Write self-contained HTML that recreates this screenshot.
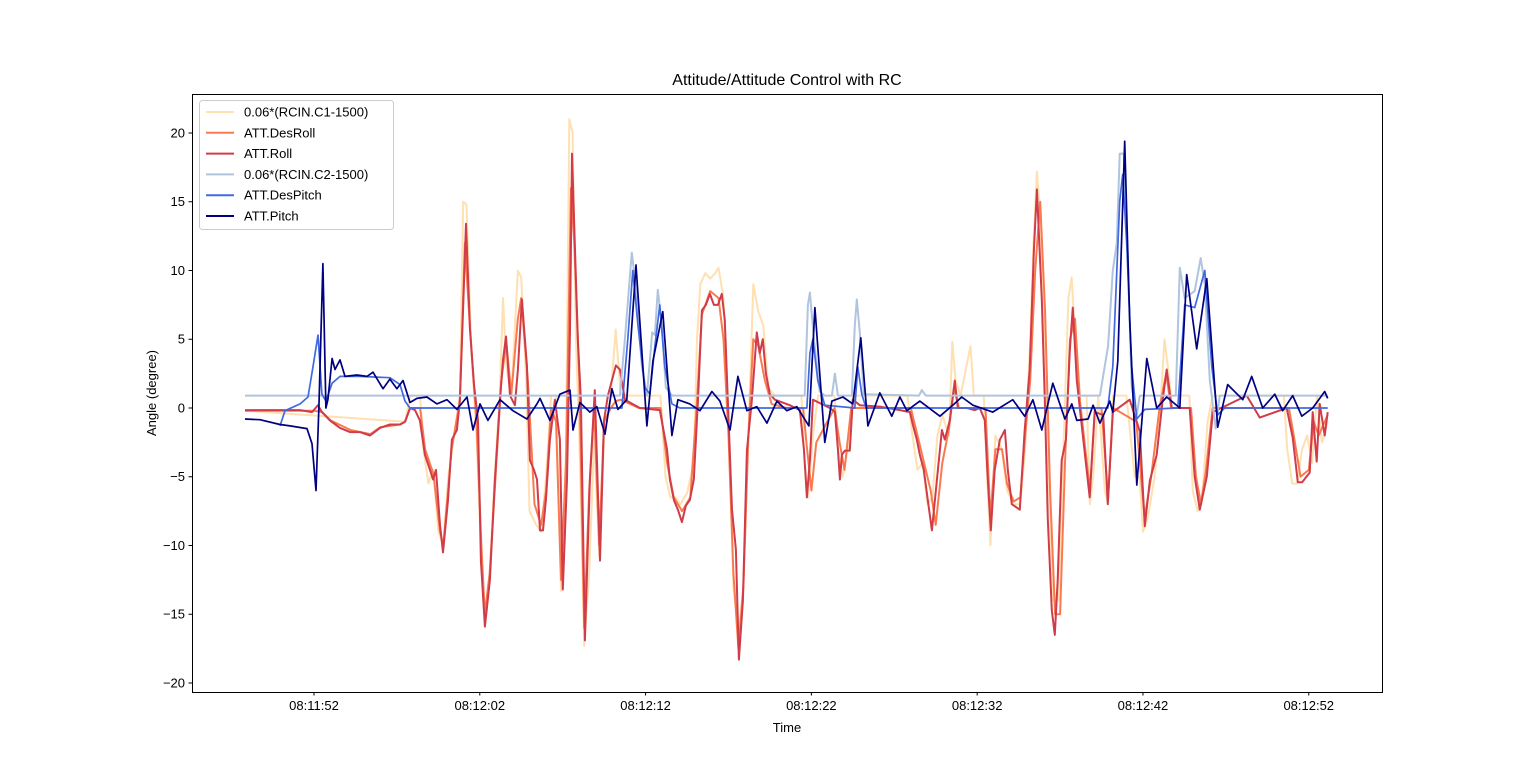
<!DOCTYPE html>
<html><head><meta charset="utf-8">
<style>
html,body{margin:0;padding:0;background:#fff;}
svg{display:block;font-family:"Liberation Sans","DejaVu Sans",sans-serif;}
</style></head>
<body>
<svg id="chart" width="1536" height="777" viewBox="0 0 1536 777">
  <rect x="0" y="0" width="1536" height="777" fill="#fff"/>
  <text x="787" y="85" text-anchor="middle" font-size="16" fill="#000">Attitude/Attitude Control with RC</text>
  <g id="plot"></g>
  <rect x="192.5" y="94.5" width="1190" height="598" fill="none" stroke="#000" stroke-width="1"/>
  <g id="xaxis"></g>
  <g id="yaxis"></g>
  <text x="787" y="732" text-anchor="middle" font-size="13">Time</text>
  <text transform="translate(156,393) rotate(-90)" text-anchor="middle" font-size="13">Angle (degree)</text>
  <g id="legend"></g>
</svg>
<script>
// time in seconds after 08:11:00
const rc1T=[47.84,57.5,57.8,58.4,58.6,58.9,59.2,59.5,59.8,60.1,60.5,60.8,61.0,61.2,61.5,61.8,62.0,62.3,62.6,62.9,63.2,63.4,63.6,63.9,64.3,64.5,64.8,65.0,65.4,65.7,66.0,66.3,66.6,66.9,67.2,67.4,67.6,67.8,68.0,68.3,68.6,68.9,69.2,69.5,69.9,70.2,70.5,71.0,72.9,73.2,73.5,73.8,74.1,74.5,74.9,75.1,75.3,75.6,75.9,76.2,76.4,76.7,77.0,77.3,77.6,77.9,78.2,78.5,78.8,79.1,79.4,79.8,81.4,81.6,81.8,82.1,82.4,83.4,83.6,83.9,84.2,84.5,87.8,88.1,88.4,88.7,89.0,89.3,89.6,89.9,90.3,90.5,90.7,91.0,91.6,91.8,92.4,92.6,92.8,93.1,93.5,93.8,94.2,94.6,94.9,95.2,95.4,95.6,95.8,96.1,96.4,96.6,96.9,97.2,97.5,97.7,98.0,98.2,98.6,98.8,99.0,99.3,99.7,99.9,100.2,101.0,101.5,101.8,102.0,102.3,102.7,103.0,103.3,103.5,103.7,104.8,105.0,105.3,105.6,105.9,106.2,110.5,110.7,111.0,111.3,111.6,111.9,112.2,112.5,112.8,113.14];
const rc1V=[-0.2,-1,0.9,0.9,-3,-5.5,-4.5,-9,-10,-5,-1.5,1,15,14.8,4,-2,-8,-15.5,-12,-5,0.9,8,3,0.9,10,9.5,2,-7.5,-8.5,-9,-5,0.9,0.9,-13.3,-3,21,20,5,-2,-17.3,-12,-2,-10.8,-2,1,5.7,1,0.9,0.9,-5,-6.5,-6.5,-7,-6.2,-4,5,9,9.8,9.4,9.8,10.2,8,-1,-13,-16.3,-13,-2,9,7,6,1.5,0.9,0.9,-4,-6.5,-2,0.9,0.9,-3,-5,-3,0.9,0.9,-2,-4.5,-4,-7,-6.5,-2,-0.5,-2,4.8,2,0.9,4.5,0.9,0.9,-5,-10,-2,-3,-6,-7,-7,-3,5,12,17.2,14,3,-8,-14,-14,-3,8,9.5,3,0.9,0.9,-7,-5,0.9,-6,-7,0.9,0.9,-5,-5,-9,-8,-5,-1,5,3,0.9,0.9,-6,-7.5,-6,-1,0.9,0.9,-3,-5.5,-5.5,-3,-2,-4,0.9,-2.5,-1];

const rollT=[
47.84,51.16,51.88,52.24,52.48,52.96,53.57,54.17,54.77,55.38,
55.98,56.58,57.19,57.49,57.79,58.09,58.39,58.69,59.0,59.18,
59.36,59.6,59.78,60.08,60.32,60.62,60.8,60.98,61.17,61.41,
61.65,61.89,62.07,62.31,62.61,62.91,63.22,63.4,63.58,63.82,
64.12,64.3,64.54,64.84,65.02,65.27,65.45,65.63,65.81,65.99,
66.23,66.53,66.83,67.01,67.26,67.44,67.56,67.74,67.92,68.1,
68.34,68.64,68.94,69.25,69.49,69.73,69.97,70.21,70.45,70.75,
71.66,72.86,73.29,73.47,73.71,73.95,74.19,74.43,74.67,74.91,
75.16,75.4,75.64,75.88,76.12,76.36,76.6,76.78,76.96,77.21,
77.45,77.63,77.87,78.11,78.41,78.71,78.89,79.07,79.26,79.5,
79.8,80.7,81.31,81.55,81.73,81.91,82.09,83.11,83.42,83.6,
83.72,83.84,84.02,84.32,84.5,84.92,86.13,87.34,87.94,88.12,
88.36,88.54,88.78,89.02,89.27,89.45,89.63,89.87,90.05,90.35,
90.65,90.83,91.38,91.86,92.16,92.46,92.64,92.82,93.06,93.37,
93.67,93.85,94.09,94.57,94.87,95.17,95.42,95.6,95.9,96.08,
96.26,96.5,96.68,96.86,97.1,97.35,97.59,97.77,98.01,98.19,
98.79,99.09,99.6,99.88,100.18,101.2,101.81,102.11,102.41,102.83,
103.19,103.43,103.74,104.82,105.12,105.43,105.85,106.21,108.26,109.05,
110.67,111.04,111.34,111.6,112.06,112.24,112.48,112.66,112.96,113.14];
const rollV=[
-0.15,-0.15,-0.3,0.2,-0.3,-0.9,-1.45,-1.75,-1.75,-2.0,
-1.45,-1.2,-1.2,-1.0,0,-0.15,-0.9,-3.4,-4.5,-5.2,
-4.5,-8.5,-10.5,-6.7,-2.3,-1.6,0.6,6.8,13.4,5.7,
1.7,-0.9,-11.1,-15.9,-12.5,-5.2,0.6,3.5,5.2,0.9,
0.2,2.8,7.9,3.1,-3.8,-4.5,-5.2,-8.9,-8.9,-6.7,
-2.3,0.6,-2.3,-13.2,-5.2,5.7,18.5,11.5,4.9,0.6,
-16.9,-5.2,1.3,-11.1,-0.9,0.9,2.0,3.1,2.8,0.6,
0,-0.15,-3.0,-5.2,-6.7,-7.4,-8.3,-7.1,-6.7,-5.2,
0.6,7.1,7.5,8.3,7.5,7.5,8.3,6.4,0.6,-7.4,
-10.3,-18.3,-14.0,-3.1,0.6,5.5,4.0,5.0,2.5,1.0,
0.6,0.2,-0.15,-3.0,-6.5,-3.8,0.6,0,-0.3,-3.0,
-5.2,-3.4,-3.1,-3.1,0.6,0.2,0.1,-0.15,-0.3,-1.2,
-2.3,-3.4,-4.5,-6.7,-8.9,-6.7,-4.5,-1.6,-2.3,-0.9,
2.0,0,0,-0.15,0,-0.9,-5.2,-8.9,-4.5,-2.3,
-1.6,-4.5,-7.0,-7.4,-1.6,2.8,11.5,15.9,7.9,0.6,
-8.1,-14.7,-16.5,-12.5,-3.8,-2.3,4.2,7.3,2.0,0,
-6.5,-0.3,-0.5,-7.0,-0.3,0.6,-1.7,-8.6,-5.3,-3.4,
0.6,2.8,0,0,-5.0,-7.4,-5.0,-0.3,0.9,-0.7,
0,-2.2,-5.4,-5.4,-4.7,-0.3,-3.9,0.3,-2.0,-0.3];

const desRollT=[
47.84,52.0,52.5,53.0,54.2,55.4,56.0,57.2,57.5,57.8,
58.4,58.7,59.2,59.6,59.8,60.3,60.8,61.1,61.4,61.8,
62.1,62.3,62.6,63.0,63.3,63.6,63.9,64.3,64.5,64.9,
65.3,65.7,66.0,66.3,66.6,66.9,67.2,67.5,67.7,68.0,
68.3,68.6,68.9,69.2,69.5,69.9,70.2,70.5,71.6,72.0,
72.9,73.3,73.7,74.2,74.7,75.1,75.4,75.9,76.4,76.7,
77.0,77.3,77.6,77.9,78.2,78.5,78.8,79.2,79.6,80.5,
81.5,81.7,82.0,82.3,83.4,83.7,84.0,84.4,88.0,88.4,
88.8,89.2,89.5,89.9,90.3,90.6,90.9,92.5,92.8,93.1,
93.5,93.8,94.2,94.6,94.9,95.2,95.5,95.8,96.1,96.4,
96.7,97.0,97.3,97.6,97.9,98.2,98.8,99.1,99.5,99.9,
100.2,101.6,102.1,102.5,103.0,103.4,103.7,104.9,105.2,105.5,
105.8,106.2,110.8,111.1,111.5,112.0,112.3,112.6,113.14];
const desRollV=[
-0.2,-0.2,-0.3,-0.9,-1.6,-1.9,-1.4,-1.2,-1.0,0,
0,-3.0,-4.8,-9,-10,-3,0.5,12,6,-1,
-10,-15,-12,-4,2,4.8,1,6.5,8,2,
-7,-8.5,-6,0,-1,-12.5,-4,16,12,2,
-16,-6,0,-10,-1,0,0.5,0.6,0,0,
0,-4,-6.5,-7.5,-6.5,0.5,6.8,8.5,8,5,
-2,-12,-17.5,-13,-2,5,4.5,2,0.3,0,
0,-2.5,-6,-2.5,0,-2.5,-4.5,0,0,-2,
-4,-6,-8.5,-4,-1.5,1.5,0,0,-8,-3,
-3,-5.5,-6.8,-6.5,-2,2,10,15,7,-6,
-15,-15,-4,5,6.5,0.5,-6,0,0,-6.5,
0,-1,-8,-5,0,2.5,0,0,-5,-7,
-4.5,0,0,-2,-5,-4.5,-1,-2,-0.5];

const rc2T=[47.84,70.45,70.75,71.05,71.17,71.4,71.78,72.08,72.4,72.56,72.74,72.98,73.22,73.6,81.6,81.79,81.91,82.15,82.5,82.81,83.24,83.42,83.6,84.44,84.62,84.74,84.92,85.16,88.5,88.66,88.9,99.4,99.9,100.18,100.42,100.6,100.84,101.08,101.32,101.63,101.81,103.98,104.22,104.52,105.12,105.48,105.73,106.03,106.39,106.63,113.14];
const rc2V=[0.9,0.9,5,9.5,11.3,9,3,0.9,5.5,5.3,8.6,6,1.5,0.9,0.9,7.5,8.4,5,1.2,0.9,0.9,2.5,0.9,0.9,6,7.9,5.5,1,0.9,1.3,0.9,0.9,4.5,10,12,18.5,18.5,11,1.5,-0.5,0.9,0.9,10.2,8,8.5,10.9,9,2,-1.5,0.9,0.9];

const desPitchT=[49.95,50.25,51.16,51.64,51.94,52.24,52.48,52.72,53.09,53.57,54.77,56.58,57.19,57.49,57.79,70.57,70.93,71.23,71.54,71.96,72.26,72.56,72.86,73.16,73.59,74.07,81.73,81.91,82.09,82.39,82.81,84.62,84.8,85.04,85.3,99.88,100.18,100.6,100.78,101.02,101.32,101.63,102.11,104.1,104.52,105.12,105.73,106.15,106.51,106.93,113.14];
const desPitchV=[-1.3,-0.2,0.3,0.8,3,5.3,1,0.5,1.8,2.3,2.3,2.2,1.7,0.5,0,0,5,10,6,1.5,1,4.5,7.5,3,0.3,0,0,4,5,2,0.2,0,3,1,0,0,3,15,17,12,3,-0.8,-0.1,0,7.5,7.3,10,3,-0.5,0,0];

const pitchT=[47.84,48.74,49.95,50.55,51.58,51.88,52.12,52.3,52.54,52.72,52.84,53.09,53.27,53.57,53.87,54.59,55.2,55.56,56.16,56.58,57.0,57.37,57.79,58.21,58.81,59.42,60.02,60.62,61.23,61.59,62.01,62.49,63.22,64.0,64.84,65.45,65.63,66.23,66.83,67.44,67.62,68.04,68.64,69.06,69.55,69.97,70.33,70.87,71.42,72.08,72.44,73.04,73.59,73.95,74.67,75.28,76.0,76.48,77.09,77.57,78.11,78.71,79.32,79.92,80.52,81.12,81.85,82.21,82.81,83.24,83.9,84.5,84.98,85.41,86.13,86.85,87.34,87.76,88.54,89.75,90.53,91.07,91.74,92.94,94.15,94.87,95.36,95.9,96.56,97.29,97.71,98.01,98.69,98.99,99.4,100.0,100.18,100.48,100.9,101.2,101.63,102.23,102.83,103.43,104.22,104.64,105.24,105.85,106.51,107.11,108.02,108.56,109.22,109.95,110.43,111.03,111.58,112.24,112.96,113.14];
const pitchV=[-0.8,-0.85,-1.2,-1.3,-1.5,-2.6,-6.0,0.3,10.5,0,0.6,3.6,2.8,3.5,2.3,2.4,2.3,2.6,1.4,2.1,1.4,2.0,0.4,0.7,0.8,0.3,0.6,-0.1,0.8,-1.6,0.3,-0.9,0.6,-0.2,-0.8,0.3,0.7,-0.9,1.0,1.3,-1.6,0.4,-0.3,0.1,-1.9,1.4,-0.1,0.6,10.4,-1.3,3.4,7.0,-2.0,0.6,0.3,-0.2,1.2,0.5,-1.6,2.3,-0.2,0.1,-1.1,0.5,-0.2,0.1,-1.3,7.3,-2.5,0.5,0.8,0.3,5.1,-1.3,1.1,-0.6,0.8,-0.2,0.5,-0.6,0.2,0.8,0.2,-0.3,0.6,-0.6,0.6,-1.6,1.8,-0.8,0.3,-0.9,-0.8,0.2,-1.1,0.5,-0.3,3.4,19.4,6.4,-5.6,3.6,0,0.8,0,9.7,4.3,9.4,-1.4,1.7,0.6,2.3,0,1.0,-0.2,0.9,-0.6,0,1.2,0.7];

const yTicks=[-20,-15,-10,-5,0,5,10,15,20];
const xTickSec=[52,62,72,82,92,102,112];
const xTickLabels=["08:11:52","08:12:02","08:12:12","08:12:22","08:12:32","08:12:42","08:12:52"];

const X0=192,X1=1382,Y0=94,Y1=692;
const xMin=44.642,xMax=116.418,yMin=-20.655,yMax=22.836;
function xs(t){return X0+(t-xMin)/(xMax-xMin)*(X1-X0);}
function ys(v){return Y1-(v-yMin)/(yMax-yMin)*(Y1-Y0);}
const NS="http://www.w3.org/2000/svg";
const plot=document.getElementById('plot');
const xa=document.getElementById('xaxis');
const ya=document.getElementById('yaxis');

yTicks.forEach(v=>{
  const y=ys(v);
  const l=document.createElementNS(NS,'line');
  l.setAttribute('x1',X0-3.5);l.setAttribute('x2',X0);l.setAttribute('y1',y);l.setAttribute('y2',y);l.setAttribute('stroke','#000');
  
  
  ya.appendChild(l);
  const t=document.createElementNS(NS,'text');
  t.setAttribute('x',X0-7);t.setAttribute('y',y+4.5);t.setAttribute('text-anchor','end');t.setAttribute('font-size','13');
  t.textContent=(v<0?'\u2212':'')+Math.abs(v);
  
  
  ya.appendChild(t);
});
xTickSec.forEach((s,i)=>{
  const x=xs(s);
  const l=document.createElementNS(NS,'line');
  l.setAttribute('x1',x);l.setAttribute('x2',x);l.setAttribute('y1',Y1);l.setAttribute('y2',Y1+3.5);l.setAttribute('stroke','#000');
  
  
  xa.appendChild(l);
  const t=document.createElementNS(NS,'text');
  t.setAttribute('x',x);t.setAttribute('y',Y1+18);t.setAttribute('text-anchor','middle');t.setAttribute('font-size','13');
  t.textContent=xTickLabels[i];
  
  
  xa.appendChild(t);
});

const series=[
 {n:'0.06*(RCIN.C1-1500)',T:rc1T,V:rc1V,c:'#ffe0b0',w:2,name:'rc1-line'},
 {n:'ATT.DesRoll',T:desRollT,V:desRollV,c:'#fa7a50',w:2,name:'desroll-line'},
 {n:'ATT.Roll',T:rollT,V:rollV,c:'#d03c4a',w:2,name:'roll-line'},
 {n:'0.06*(RCIN.C2-1500)',T:rc2T,V:rc2V,c:'#b0c4de',w:2,name:'rc2-line'},
 {n:'ATT.DesPitch',T:desPitchT,V:desPitchV,c:'#4169e1',w:1.7,name:'despitch-line'},
 {n:'ATT.Pitch',T:pitchT,V:pitchV,c:'#000080',w:1.7,name:'pitch-line'}
];
series.forEach(s=>{
  const n=Math.min(s.T.length,s.V.length);
  const pts=[];
  for(let i=0;i<n;i++)pts.push(xs(s.T[i]).toFixed(1)+','+ys(s.V[i]).toFixed(1));
  const p=document.createElementNS(NS,'polyline');
  p.setAttribute('points',pts.join(' '));
  p.setAttribute('fill','none');p.setAttribute('stroke',s.c);p.setAttribute('stroke-width',s.w);p.setAttribute('stroke-linejoin','round');
  
  
  plot.appendChild(p);
});

const lg=document.getElementById('legend');
const box=document.createElementNS(NS,'rect');
box.setAttribute('x',199.5);box.setAttribute('y',100.5);box.setAttribute('width',194);box.setAttribute('height',129);box.setAttribute('rx',3);
box.setAttribute('fill','#fff');box.setAttribute('fill-opacity','0.8');box.setAttribute('stroke','#ccc');


lg.appendChild(box);
series.forEach((s,i)=>{
  const y=112+i*20.8;
  const l=document.createElementNS(NS,'line');
  l.setAttribute('x1',206);l.setAttribute('x2',234);l.setAttribute('y1',y);l.setAttribute('y2',y);l.setAttribute('stroke',s.c);l.setAttribute('stroke-width',2);
  
  
  lg.appendChild(l);
  const t=document.createElementNS(NS,'text');
  t.setAttribute('x',244);t.setAttribute('y',y+4.5);t.setAttribute('font-size','13');
  t.textContent=s.n;
  
  
  lg.appendChild(t);
});
</script>
</body></html>
